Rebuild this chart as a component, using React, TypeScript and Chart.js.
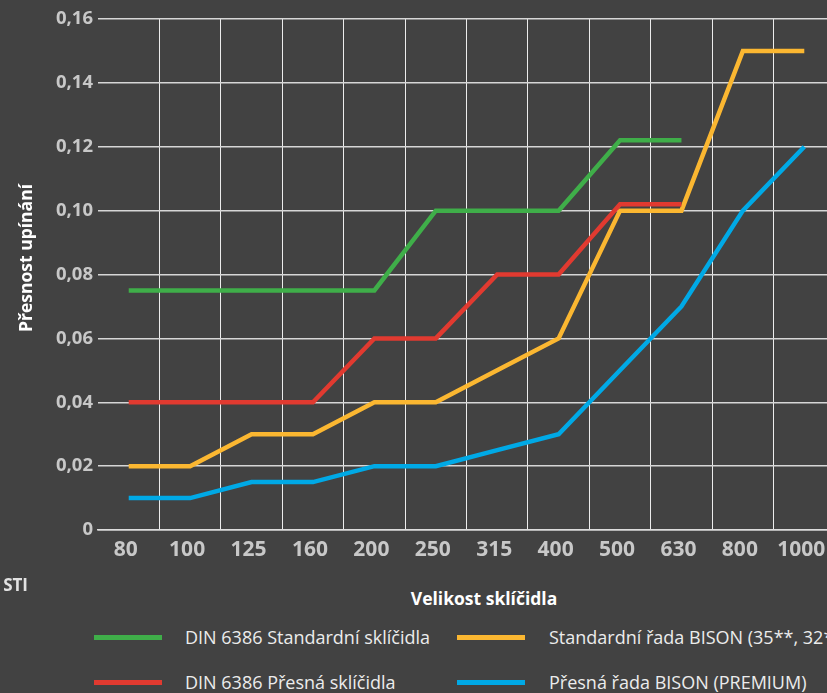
import React, { useEffect, useRef } from "react";
import { Chart, registerables } from "chart.js";

Chart.register(...registerables);

const categories = ["80", "100", "125", "160", "200", "250", "315", "400", "500", "630", "800", "1000"];
const dinStandard = [0.075, 0.075, 0.075, 0.075, 0.075, 0.1, 0.1, 0.1, 0.122, 0.122, null, null];
const dinPrecise = [0.04, 0.04, 0.04, 0.04, 0.06, 0.06, 0.08, 0.08, 0.102, 0.102, null, null];
const bisonStandard = [0.02, 0.02, 0.03, 0.03, 0.04, 0.04, 0.05, 0.06, 0.1, 0.1, 0.15, 0.15];
const bisonPremium = [0.01, 0.01, 0.015, 0.015, 0.02, 0.02, 0.025, 0.03, 0.05, 0.07, 0.1, 0.12];
const seriesLabels = [
  "DIN 6386 Standardní sklíčidla",
  "DIN 6386 Přesná sklíčidla",
  "Standardní řada BISON (35**, 32**)",
  "Přesná řada BISON (PREMIUM)",
];
const seriesColors = ["#3fae49", "#e13a30", "#fbb731", "#00a9e6"];
const yTicks = [0, 0.02, 0.04, 0.06, 0.08, 0.1, 0.12, 0.14, 0.16];
const xTitle = "Velikost sklíčidla";
const yTitle = "Přesnost upínání";

const FONT = "'Open Sans', 'DejaVu Sans', sans-serif";

export default function App() {
  const ref = useRef<HTMLCanvasElement | null>(null);

  useEffect(() => {
    if (!ref.current) return;
    const seriesData = [dinStandard, dinPrecise, bisonStandard, bisonPremium];
    const chart = new Chart(ref.current, {
      type: "line",
      data: {
        labels: categories,
        datasets: seriesData.map((d, i) => ({
          label: seriesLabels[i],
          data: d,
          borderColor: seriesColors[i],
          backgroundColor: seriesColors[i],
          borderWidth: 4.5,
          pointRadius: 0,
          tension: 0,
          borderCapStyle: "butt" as const,
          borderJoinStyle: "miter" as const,
          spanGaps: false,
        })),
      },
      options: {
        responsive: false,
        animation: false,
        devicePixelRatio: 1,
        layout: { padding: { left: 0, top: 19, right: 35, bottom: 0 } },
        plugins: { legend: { display: false }, tooltip: { enabled: false } },
        scales: {
          x: {
            offset: true,
            grid: {
              offset: true,
              drawTicks: false,
              lineWidth: 1,
              color: (ctx: any) => (ctx.index === 0 ? "rgba(0,0,0,0)" : "#ececec"),
            },
            border: { display: true, color: "#dcdcdc", width: 1.5 },
            ticks: {
              autoSkip: false,
              maxRotation: 0,
              padding: 7,
              labelOffset: -3,
              color: "#c8c8c8",
              font: { family: FONT, size: 21, weight: "bold" },
            },
            afterFit: (scale: any) => {
              scale.height = 35;
            },
          },
          y: {
            min: 0,
            max: 0.16,
            afterBuildTicks: (scale: any) => {
              scale.ticks = yTicks.map((v) => ({ value: v }));
            },
            grid: { drawTicks: false, color: "#d6d6d6", lineWidth: 1.5 },
            border: { display: false },
            ticks: {
              padding: 5,
              color: "#c8c8c8",
              font: { family: FONT, size: 18.5, weight: "bold" },
              callback: (v: any) => (Number(v) === 0 ? "0" : Number(v).toFixed(2).replace(".", ",")),
            },
            afterFit: (scale: any) => {
              scale.width = 98;
            },
          },
        },
      },
    });
    return () => chart.destroy();
  }, []);

  const legendPos = [
    { lx: 94, tx: 185, y: 637 },
    { lx: 94, tx: 185, y: 682 },
    { lx: 457, tx: 549, y: 637 },
    { lx: 457, tx: 549, y: 682 },
  ];

  return (
    <div
      style={{
        position: "fixed",
        left: 0,
        top: 0,
        width: 827,
        height: 693,
        overflow: "hidden",
        background: "#424242",
        fontFamily: FONT,
      }}
    >
      <canvas
        ref={ref}
        width={870}
        height={565}
        style={{ position: "absolute", left: 0, top: 0, width: 870, height: 565 }}
      />
      <div
        style={{
          position: "absolute",
          left: 25,
          top: 258,
          transform: "translate(-50%, -50%) rotate(-90deg)",
          whiteSpace: "nowrap",
          color: "#ffffff",
          fontWeight: 700,
          fontSize: 17.5,
        }}
      >
        {yTitle}
      </div>
      <div
        style={{
          position: "absolute",
          left: 484,
          top: 598,
          transform: "translate(-50%, -50%)",
          whiteSpace: "nowrap",
          color: "#ffffff",
          fontWeight: 700,
          fontSize: 17.5,
        }}
      >
        {xTitle}
      </div>
      <div
        style={{
          position: "absolute",
          right: 827 - 28,
          top: 584,
          transform: "translateY(-50%)",
          whiteSpace: "nowrap",
          color: "#e2e2e2",
          fontWeight: 700,
          fontSize: 17,
        }}
      >
        STI
      </div>
      {seriesLabels.map((lab, i) => (
        <React.Fragment key={lab}>
          <div
            style={{
              position: "absolute",
              left: legendPos[i].lx,
              top: legendPos[i].y - 2.5,
              width: 68,
              height: 5,
              background: seriesColors[i],
            }}
          />
          <div
            style={{
              position: "absolute",
              left: legendPos[i].tx,
              top: legendPos[i].y,
              transform: "translateY(-50%)",
              whiteSpace: "nowrap",
              color: "#ececec",
              fontSize: 18,
            }}
          >
            {lab}
          </div>
        </React.Fragment>
      ))}
    </div>
  );
}
